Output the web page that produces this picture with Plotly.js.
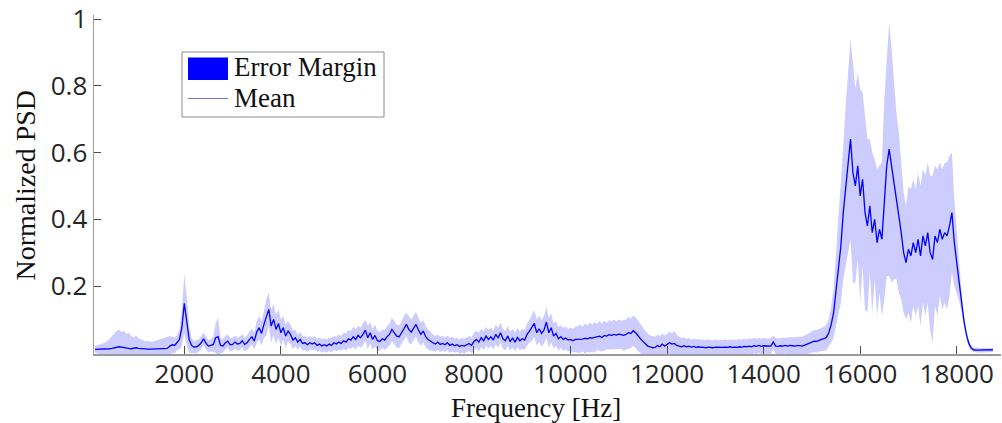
<!DOCTYPE html>
<html>
<head>
<meta charset="utf-8">
<script src="https://cdn.plot.ly/plotly-3.0.1.min.js"></script>
<style>
  html, body { margin: 0; padding: 0; background: #ffffff; }
  #chart { width: 1002px; height: 423px; }
</style>
</head>
<body>
<div id="chart"></div>
<script>
// Frequency bins [Hz]
const freq = [
  150,200,250,300,350,400,450,500,550,600,650,700,750,800,850,900,950,1000,1050,1100,
  1150,1200,1250,1300,1350,1400,1450,1500,1550,1600,1650,1700,1750,1800,1850,1900,1950,2000,2050,2100,
  2150,2200,2250,2300,2350,2400,2450,2500,2550,2600,2650,2700,2750,2800,2850,2900,2950,3000,3050,3100,
  3150,3200,3250,3300,3350,3400,3450,3500,3550,3600,3650,3700,3750,3800,3850,3900,3950,4000,4050,4100,
  4150,4200,4250,4300,4350,4400,4450,4500,4550,4600,4650,4700,4750,4800,4850,4900,4950,5000,5050,5100,
  5150,5200,5250,5300,5350,5400,5450,5500,5550,5600,5650,5700,5750,5800,5850,5900,5950,6000,6050,6100,
  6150,6200,6250,6300,6350,6400,6450,6500,6550,6600,6650,6700,6750,6800,6850,6900,6950,7000,7050,7100,
  7150,7200,7250,7300,7350,7400,7450,7500,7550,7600,7650,7700,7750,7800,7850,7900,7950,8000,8050,8100,
  8150,8200,8250,8300,8350,8400,8450,8500,8550,8600,8650,8700,8750,8800,8850,8900,8950,9000,9050,9100,
  9150,9200,9250,9300,9350,9400,9450,9500,9550,9600,9650,9700,9750,9800,9850,9900,9950,10000,10050,10100,
  10150,10200,10250,10300,10350,10400,10450,10500,10550,10600,10650,10700,10750,10800,10850,10900,10950,11000,11050,11100,
  11150,11200,11250,11300,11350,11400,11450,11500,11550,11600,11650,11700,11750,11800,11850,11900,11950,12000,12050,12100,
  12150,12200,12250,12300,12350,12400,12450,12500,12550,12600,12650,12700,12750,12800,12850,12900,12950,13000,13050,13100,
  13150,13200,13250,13300,13350,13400,13450,13500,13550,13600,13650,13700,13750,13800,13850,13900,13950,14000,14050,14100,
  14150,14200,14250,14300,14350,14400,14450,14500,14550,14600,14650,14700,14750,14800,14850,14900,14950,15000,15050,15100,
  15150,15200,15250,15300,15350,15400,15450,15500,15550,15600,15650,15700,15750,15800,15850,15900,15950,16000,16050,16100,
  16150,16200,16250,16300,16350,16400,16450,16500,16550,16600,16650,16700,16750,16800,16850,16900,16950,17000,17050,17100,
  17150,17200,17250,17300,17350,17400,17450,17500,17550,17600,17650,17700,17750,17800,17850,17900,17950,18000,18050,18100,
  18150,18200,18250,18300,18350,18400,18450,18500,18550,18600,18650,18700,18750
];

// Mean normalized PSD per bin
const psdMean = [
  .010,.010,.010,.011,.011,.011,.012,.013,.015,.017,.018,.017,.015,.013,.013,.012,.013,.015,.013,.012,
  .012,.012,.011,.011,.011,.011,.011,.011,.012,.012,.013,.020,.024,.022,.030,.040,.075,.148,.095,.040,
  .022,.017,.018,.022,.030,.042,.028,.020,.022,.025,.045,.048,.022,.020,.030,.035,.024,.025,.032,.026,
  .028,.036,.025,.030,.040,.048,.035,.062,.075,.058,.085,.105,.130,.080,.100,.070,.088,.060,.075,.050,
  .065,.055,.038,.045,.032,.040,.028,.030,.024,.030,.026,.030,.022,.026,.020,.024,.020,.026,.022,.030,
  .026,.032,.028,.036,.032,.042,.038,.048,.040,.052,.045,.055,.068,.045,.060,.040,.052,.036,.034,.042,
  .038,.048,.055,.070,.060,.050,.048,.062,.072,.085,.070,.062,.075,.085,.068,.055,.065,.048,.040,.034,
  .030,.026,.032,.025,.028,.024,.030,.022,.026,.021,.024,.019,.022,.020,.024,.028,.022,.034,.040,.032,
  .045,.036,.050,.040,.048,.038,.055,.045,.060,.042,.036,.050,.034,.044,.032,.046,.036,.042,.038,.055,
  .065,.075,.088,.060,.072,.058,.068,.092,.060,.075,.050,.058,.042,.048,.040,.044,.038,.040,.036,.040,
  .040,.042,.041,.043,.042,.045,.044,.046,.048,.050,.046,.052,.050,.054,.052,.055,.053,.056,.054,.052,
  .055,.060,.058,.066,.060,.050,.042,.034,.026,.020,.018,.015,.016,.022,.018,.026,.020,.024,.030,.026,
  .028,.022,.020,.018,.021,.018,.020,.017,.019,.016,.018,.016,.017,.015,.017,.016,.015,.017,.016,.017,
  .016,.017,.016,.018,.016,.017,.016,.018,.017,.019,.018,.020,.018,.021,.019,.022,.019,.021,.020,.019,
  .020,.032,.020,.019,.021,.020,.022,.020,.022,.021,.020,.022,.021,.020,.023,.026,.028,.032,.035,.034,
  .038,.040,.042,.046,.060,.085,.120,.190,.260,.320,.420,.500,.560,.640,.540,.500,.560,.470,.520,.420,
  .380,.440,.360,.400,.330,.370,.340,.460,.560,.610,.560,.520,.470,.420,.360,.300,.270,.310,.290,.330,
  .300,.340,.290,.350,.320,.360,.300,.280,.350,.330,.370,.340,.360,.350,.380,.420,.330,.270,.210,.150,
  .095,.055,.028,.014,.009,.008,.008,.007,.008,.007,.008,.007,.009
];

// Standard deviation per bin (error margin = mean ± std)
const psdStd = [
  .010,.012,.014,.015,.019,.023,.030,.037,.043,.049,.052,.045,.051,.043,.047,.038,.033,.037,.031,.028,
  .024,.022,.025,.022,.023,.025,.027,.029,.030,.034,.035,.030,.024,.024,.022,.030,.055,.087,.075,.040,
  .023,.018,.020,.018,.020,.018,.020,.018,.018,.023,.045,.057,.023,.020,.020,.020,.020,.020,.020,.020,
  .020,.020,.021,.022,.024,.024,.025,.033,.035,.037,.040,.055,.050,.050,.045,.045,.042,.040,.035,.035,
  .030,.030,.027,.025,.023,.022,.022,.022,.021,.020,.020,.020,.020,.020,.020,.020,.020,.020,.022,.020,
  .022,.023,.022,.024,.026,.026,.027,.030,.030,.030,.030,.033,.032,.035,.032,.032,.033,.030,.028,.028,
  .030,.032,.033,.035,.035,.035,.034,.036,.038,.035,.040,.038,.037,.037,.037,.035,.033,.032,.030,.028,
  .025,.024,.023,.023,.022,.022,.022,.022,.022,.021,.021,.021,.022,.022,.022,.022,.024,.026,.026,.028,
  .027,.029,.028,.028,.028,.028,.030,.030,.030,.030,.029,.030,.028,.028,.028,.029,.028,.030,.030,.033,
  .035,.040,.040,.040,.040,.040,.042,.046,.045,.043,.038,.037,.036,.034,.035,.034,.034,.035,.036,.038,
  .040,.043,.037,.045,.040,.045,.040,.046,.038,.045,.042,.044,.040,.044,.042,.045,.041,.044,.042,.046,
  .045,.048,.044,.046,.046,.046,.043,.041,.039,.038,.034,.035,.032,.032,.032,.032,.032,.032,.034,.032,
  .037,.033,.028,.027,.025,.024,.024,.023,.023,.024,.023,.023,.023,.023,.023,.022,.022,.023,.022,.022,
  .022,.023,.022,.022,.022,.023,.022,.023,.022,.023,.022,.023,.023,.023,.023,.023,.023,.023,.023,.023,
  .024,.020,.024,.024,.024,.024,.024,.025,.025,.025,.026,.026,.026,.028,.029,.030,.032,.032,.033,.034,
  .034,.035,.036,.039,.040,.055,.075,.110,.140,.170,.200,.240,.270,.300,.330,.290,.280,.320,.260,.290,
  .260,.200,.240,.180,.220,.190,.230,.300,.330,.380,.350,.300,.250,.240,.200,.180,.170,.190,.200,.190,
  .190,.200,.210,.200,.210,.210,.230,.250,.210,.220,.200,.210,.210,.220,.210,.180,.130,.090,.055,.030,
  .018,.012,.010,.008,.007,.007,.006,.007,.007,.006,.007,.006,.007
];

const xTickVals = [2000, 4000, 6000, 8000, 10000, 12000, 14000, 16000, 18000];
const xTickText = ['2000', '4000', '6000', '8000', '10000', '12000', '14000', '16000', '18000'];
const yTickVals = [0.2, 0.4, 0.6, 0.8, 1];
const yTickText = ['0.2', '0.4', '0.6', '0.8', '1'];
const legendLabels = ['Error Margin', 'Mean'];
const xTitle = 'Frequency [Hz]';
const yTitle = 'Normalized PSD';

const bandUpper = psdMean.map((m, i) => m + psdStd[i]);
const bandLower = psdMean.map((m, i) => m - psdStd[i]);

const BLUE = '#0000ff';
const BAND = 'rgba(0,0,255,0.2)';
const SERIF = 'Liberation Serif, Times New Roman, serif';
const SANS = 'Open Sans, DejaVu Sans, sans-serif';

const traces = [
  { x: freq, y: bandLower, type: 'scatter', mode: 'lines',
    line: { width: 0, color: 'rgba(0,0,0,0)' }, hoverinfo: 'skip', showlegend: false },
  { x: freq, y: bandUpper, type: 'scatter', mode: 'lines', fill: 'tonexty',
    fillcolor: BAND, line: { width: 0, color: 'rgba(0,0,0,0)' },
    name: legendLabels[0], hoverinfo: 'skip', showlegend: false },
  { x: freq, y: psdMean, type: 'scatter', mode: 'lines',
    line: { width: 1.3, color: BLUE }, name: legendLabels[1], showlegend: false }
];

// plot area in pixels: x 94..1001, y 15..354
const PL = 94, PR = 1001, PT = 15, PB = 354;
const px = v => (v - PL) / (PR - PL);
const py = v => (PB - v) / (PB - PT);

const layout = {
  width: 1002, height: 423,
  margin: { l: PL, r: 1002 - PR, t: PT, b: 423 - PB, pad: 0 },
  paper_bgcolor: '#ffffff', plot_bgcolor: '#ffffff',
  showlegend: false,
  xaxis: {
    range: [129.5, 18917], tickmode: 'array', tickvals: xTickVals, ticktext: xTickText,
    ticks: 'inside', ticklen: 8, tickwidth: 1, tickcolor: '#4d4d4d',
    ticklabelstandoff: -4,
    showline: true, linecolor: '#9a9a9a', linewidth: 1.5, mirror: false,
    showgrid: false, zeroline: false,
    tickfont: { family: SANS, size: 26, color: '#262626' }
  },
  yaxis: {
    range: [-0.0037, 1.012], tickmode: 'array', tickvals: yTickVals, ticktext: yTickText,
    ticks: 'inside', ticklen: 7, tickwidth: 1, tickcolor: '#4d4d4d',
    showline: true, linecolor: '#9a9a9a', linewidth: 1.5, mirror: false,
    showgrid: false, zeroline: false,
    tickfont: { family: SANS, size: 26, color: '#262626' }
  },
  shapes: [
    // legend box
    { type: 'rect', xref: 'paper', yref: 'paper', x0: px(182), x1: px(384), y0: py(117), y1: py(52),
      fillcolor: '#ffffff', line: { color: '#8c8c8c', width: 1 }, layer: 'above' },
    // legend patch
    { type: 'rect', xref: 'paper', yref: 'paper', x0: px(188), x1: px(228), y0: py(80), y1: py(57.5),
      fillcolor: BLUE, line: { width: 0 }, layer: 'above' },
    // legend line
    { type: 'line', xref: 'paper', yref: 'paper', x0: px(188), x1: px(228), y0: py(98.5), y1: py(98.5),
      line: { color: '#7070ff', width: 1 }, layer: 'above' }
  ],
  annotations: [
    { text: legendLabels[0], xref: 'paper', yref: 'paper', x: px(232), y: py(66.5),
      xanchor: 'left', yanchor: 'middle', showarrow: false,
      font: { family: SERIF, size: 27, color: '#111111' } },
    { text: legendLabels[1], xref: 'paper', yref: 'paper', x: px(232), y: py(97.5),
      xanchor: 'left', yanchor: 'middle', showarrow: false,
      font: { family: SERIF, size: 27, color: '#111111' } },
    { text: xTitle, xref: 'paper', yref: 'paper', x: px(536), y: py(408),
      xanchor: 'center', yanchor: 'middle', showarrow: false,
      font: { family: SERIF, size: 27, color: '#111111' } },
    { text: yTitle, xref: 'paper', yref: 'paper', x: px(24.5), y: py(185), textangle: -90,
      xanchor: 'center', yanchor: 'middle', showarrow: false,
      font: { family: SERIF, size: 28, color: '#111111' } }
  ]
};

Plotly.newPlot('chart', traces, layout, { displayModeBar: false, staticPlot: true });
</script>
</body>
</html>
